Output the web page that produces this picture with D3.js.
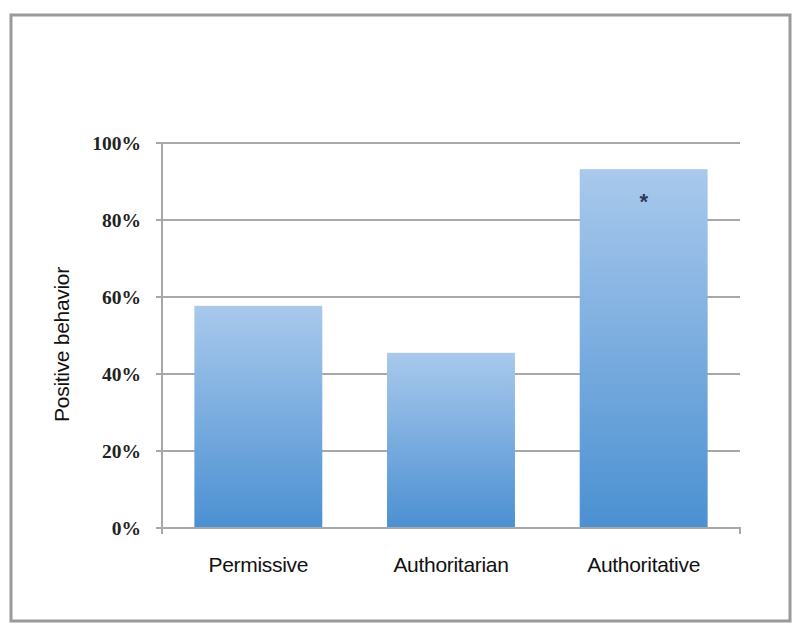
<!DOCTYPE html>
<html>
<head>
<meta charset="utf-8">
<script src="https://cdn.jsdelivr.net/npm/d3@7"></script>
<style>
  body { margin: 0; background: #fff; }
</style>
</head>
<body>
<div id="wrapper"></div>
<script>
// chart data
const categories = ["Permissive", "Authoritarian", "Authoritative"]
const values = [0.577, 0.455, 0.932]
const yTicks = [0, 0.2, 0.4, 0.6, 0.8, 1.0]
const starred = ["Authoritative"]

const dims = {
    width: 800,
    height: 638,
    margin: { top: 143, right: 60, bottom: 110, left: 162 }
}
dims.boundWidth = dims.width - dims.margin.left - dims.margin.right
dims.boundHeight = dims.height - dims.margin.top - dims.margin.bottom

const svg = d3.select("#wrapper")
    .append("svg")
        .attr("width", dims.width)
        .attr("height", dims.height)

// outer frame
svg.append("rect")
    .attr("x", 11).attr("y", 15)
    .attr("width", 779).attr("height", 606)
    .attr("fill", "#fff")
    .attr("stroke", "#9a9a9a")
    .attr("stroke-width", 3)

// bar gradient, light on top
const grad = svg.append("defs").append("linearGradient")
    .attr("id", "barGrad")
    .attr("x1", 0).attr("y1", 0).attr("x2", 0).attr("y2", 1)
grad.append("stop").attr("offset", "0%").attr("stop-color", "#a9c9ec")
grad.append("stop").attr("offset", "100%").attr("stop-color", "#4b90d2")

const bound = svg.append("g")
    .attr("transform", `translate(${dims.margin.left},${dims.margin.top})`)

const xScale = d3.scaleBand()
    .domain(categories)
    .range([0, dims.boundWidth])
    .paddingInner(0.336)
    .paddingOuter(0.168)

const yScale = d3.scaleLinear()
    .domain([0, 1])
    .range([dims.boundHeight, 0])

// gridlines + left ticks
bound.append("g")
    .selectAll("line")
    .data(yTicks)
    .join("line")
        .attr("x1", -6)
        .attr("x2", dims.boundWidth)
        .attr("y1", d => yScale(d))
        .attr("y2", d => yScale(d))
        .attr("stroke", "#a8a8a8")
        .attr("stroke-width", 2)

// bars
bound.append("g")
    .selectAll("rect")
    .data(categories)
    .join("rect")
        .attr("x", d => xScale(d))
        .attr("width", xScale.bandwidth())
        .attr("y", (d, i) => yScale(values[i]))
        .attr("height", (d, i) => dims.boundHeight - yScale(values[i]))
        .attr("fill", "url(#barGrad)")

// y axis line
bound.append("line")
    .attr("x1", 0).attr("x2", 0)
    .attr("y1", 0).attr("y2", dims.boundHeight + 6)
    .attr("stroke", "#a8a8a8")
    .attr("stroke-width", 2)

// x axis line with end tick
bound.append("path")
    .attr("d", `M0,${dims.boundHeight}H${dims.boundWidth}v6`)
    .attr("fill", "none")
    .attr("stroke", "#a8a8a8")
    .attr("stroke-width", 2)

// y tick labels
bound.append("g")
    .selectAll("text")
    .data(yTicks)
    .join("text")
        .attr("x", -21)
        .attr("y", d => yScale(d))
        .attr("dy", "0.35em")
        .attr("text-anchor", "end")
        .attr("font-family", "'Liberation Serif', 'Times New Roman', serif")
        .attr("font-weight", "bold")
        .attr("font-size", 19.5)
        .attr("fill", "#222")
        .text(d3.format(".0%"))

// x category labels
bound.append("g")
    .selectAll("text")
    .data(categories)
    .join("text")
        .attr("x", d => xScale(d) + xScale.bandwidth() / 2)
        .attr("y", dims.boundHeight + 44)
        .attr("text-anchor", "middle")
        .attr("font-family", "'Liberation Sans', Arial, sans-serif")
        .attr("font-size", 21)
        .attr("letter-spacing", -0.3)
        .attr("fill", "#111")
        .text(d => d)

// significance marker
bound.append("g")
    .selectAll("text")
    .data(starred)
    .join("text")
        .attr("x", d => xScale(d) + xScale.bandwidth() / 2)
        .attr("y", d => yScale(values[categories.indexOf(d)]) + 40)
        .attr("text-anchor", "middle")
        .attr("font-family", "'Liberation Sans', Arial, sans-serif")
        .attr("font-weight", "bold")
        .attr("font-size", 22)
        .attr("fill", "#2b3a55")
        .text("*")

// y axis title
svg.append("text")
    .attr("transform", `translate(69,${dims.margin.top + dims.boundHeight / 2 + 9}) rotate(-90)`)
    .attr("text-anchor", "middle")
    .attr("font-family", "'Liberation Sans', Arial, sans-serif")
    .attr("font-size", 21)
    .attr("letter-spacing", -0.3)
    .attr("fill", "#111")
    .text("Positive behavior")
</script>
</body>
</html>
